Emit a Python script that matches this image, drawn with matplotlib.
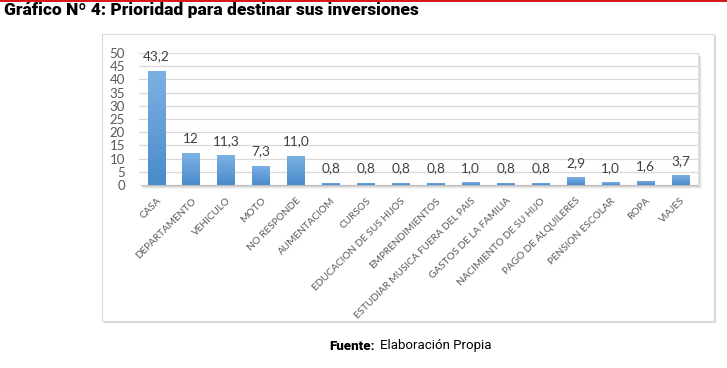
import matplotlib
matplotlib.use("Agg")
import matplotlib.pyplot as plt
import numpy as np
from matplotlib.patches import Rectangle
from matplotlib.colors import LinearSegmentedColormap

categories = ["CASA", "DEPARTAMENTO", "VEHICULO", "MOTO", "NO RESPONDE", "AUMENTACIOM",
              "CURSOS", "EDUCACION DE SUS HIJOS", "EMPRENDIMIENTOS",
              "ESTUDIAR MUSICA FUERA DEL PAIS", "GASTOS DE LA FAMILIA",
              "NACIMIENTO DE SU HIJO", "PAGO DE ALQUILERES", "PENSION ESCOLAR",
              "ROPA", "VIAJES"]
values = [43.2, 12, 11.3, 7.3, 11.0, 0.8, 0.8, 0.8, 0.8, 1.0, 0.8, 0.8, 2.9, 1.0, 1.6, 3.7]
value_labels = ["43,2", "12", "11,3", "7,3", "11,0", "0,8", "0,8", "0,8", "0,8", "1,0",
                "0,8", "0,8", "2,9", "1,0", "1,6", "3,7"]
y_ticks = [0, 5, 10, 15, 20, 25, 30, 35, 40, 45, 50]

title = "Gráfico Nº 4: Prioridad para destinar sus inversiones"
source_bold = "Fuente:"
source_text = "Elaboración Propia"

W, H = 727, 368
fig = plt.figure(figsize=(W / 100, H / 100), dpi=100)
fig.patch.set_facecolor("white")

def fx(px):
    return px / W

def fy(py):
    return 1 - py / H

# red line at top
fig.add_artist(Rectangle((0, fy(2)), 1, 2 / H, transform=fig.transFigure,
                         facecolor="#d7191c", edgecolor="none", zorder=-10))

# outer chart frame with shadow on right/bottom
fig.add_artist(Rectangle((fx(104), fy(323)), fx(716 - 104), (323 - 36) / H,
                         transform=fig.transFigure, facecolor="#d9d9d9", edgecolor="none",
                         zorder=-10))
fig.add_artist(Rectangle((fx(102), fy(321)), fx(714 - 102), (321 - 34) / H,
                         transform=fig.transFigure, facecolor="white",
                         edgecolor="#d9d9d9", linewidth=0.8, zorder=-9))

# plot area
left, right, top, bottom = 138.8, 698.0, 53.0, 185.0
# soft shadow of plot area
for i, a in enumerate([0.04, 0.06, 0.08, 0.10]):
    off = 4 - i
    fig.add_artist(Rectangle((fx(left + off), fy(bottom + off)), fx(right - left),
                             (bottom - top) / H, transform=fig.transFigure,
                             facecolor="black", alpha=a, edgecolor="none", zorder=-8))

ax = fig.add_axes([fx(left), fy(bottom), fx(right - left), (bottom - top) / H])
ax.set_facecolor("white")
x = np.arange(len(categories))
bars = ax.bar(x, values, width=0.5, color="#5b9bd5", zorder=3)

cmap = LinearSegmentedColormap.from_list("g", ["#4a8bcb", "#7db1e3"])
grad = np.linspace(0, 1, 64).reshape(-1, 1)
for b in bars:
    b.set_facecolor("none")
    bx, by = b.get_x(), b.get_y()
    bw, bh = b.get_width(), b.get_height()
    im = ax.imshow(grad, extent=[bx, bx + bw, by, by + bh], origin="lower",
                   cmap=cmap, aspect="auto", zorder=3)
    im.set_clip_path(b)

ax.set_xlim(-0.5, len(categories) - 0.5)
ax.set_ylim(0, 50)
ax.set_yticks(y_ticks)
ax.yaxis.grid(True, color="#d9d9d9", linewidth=0.9, zorder=0)
ax.set_axisbelow(True)
for s in ["left", "bottom"]:
    ax.spines[s].set_visible(False)
for s in ["top", "right"]:
    ax.spines[s].set_color("#e0e0e0")
    ax.spines[s].set_linewidth(0.8)
ax.tick_params(axis="both", length=0, colors="#595959")
ax.tick_params(axis="y", labelsize=9.5, pad=10)
for t in ax.get_yticklabels():
    t.set_fontfamily("Lato")

ax.set_xticks(x)
ax.set_xticklabels(categories, rotation=45, ha="right", rotation_mode="anchor",
                   fontsize=7.2, family="Lato", color="#595959")
ax.tick_params(axis="x", pad=8)

for xi, v, lab in zip(x, values, value_labels):
    ax.annotate(lab, (xi, v), xytext=(0, 6), textcoords="offset points",
                ha="center", va="bottom", fontsize=9.8, family="Lato", color="#404040")

fig.text(fx(4), fy(10), title, fontsize=12.5, fontweight="heavy", family="Roboto",
         color="black", ha="left", va="center")
fig.text(fx(329), fy(346), source_bold, fontsize=9.5, fontweight="heavy", family="Roboto",
         color="black", ha="left", va="center")
fig.text(fx(380), fy(346), source_text, fontsize=9.5, family="Roboto",
         color="black", ha="left", va="center")

fig.savefig("out.png", dpi=100)
